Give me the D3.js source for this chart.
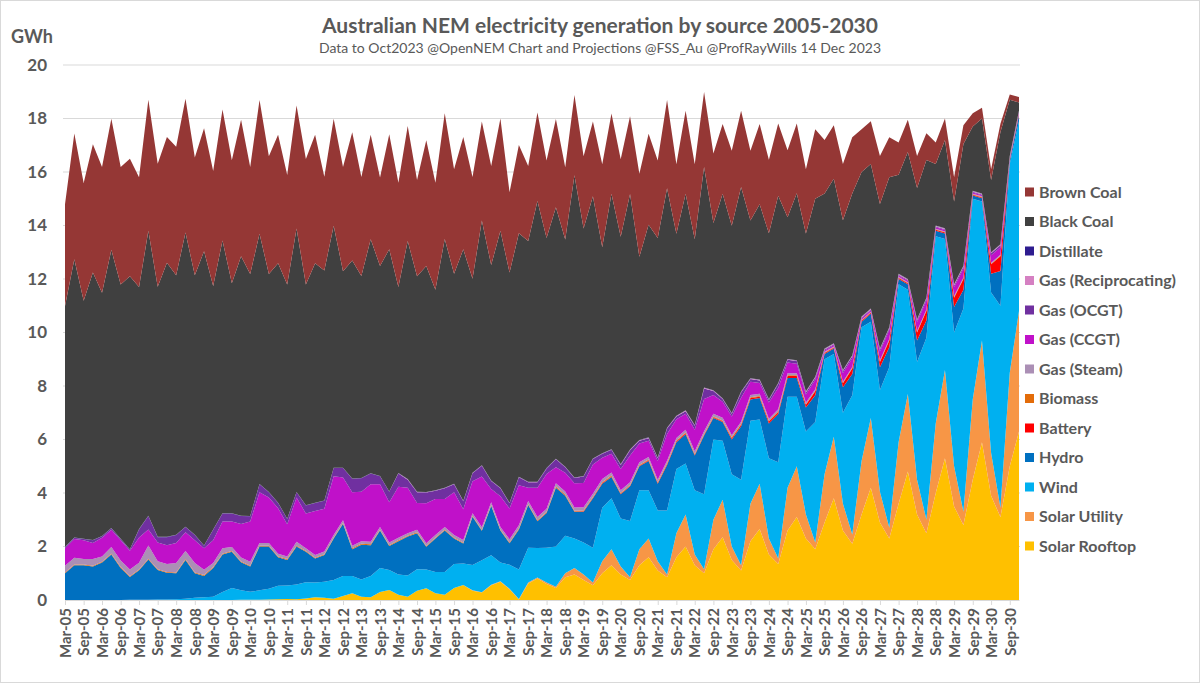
<!DOCTYPE html>
<html>
<head>
<meta charset="utf-8">
<script src="https://cdn.jsdelivr.net/npm/d3@7"></script>
<style>
  body { margin: 0; background: #fff; }
  svg { display: block; font-family: Lato, "Open Sans", sans-serif; }
</style>
</head>
<body>
<svg id="chart" width="1200" height="683"></svg>
<script>
// Quarterly samples (Mar, Jun, Sep, Dec) from Mar-05 to Dec-30, GWh.
// One row per year.
const solarRooftop = [
  0,0,0,0, 0,0,0,0, 0,0,0,0, 0,0,0,0,
  0,0,0,0.01, 0.01,0.01,0.02,0.03, 0.04,0.03,0.06,0.1, 0.08,0.05,0.15,0.25,
  0.12,0.1,0.3,0.37, 0.2,0.12,0.35,0.44, 0.25,0.2,0.45,0.56, 0.35,0.28,0.55,0.68,
  0.4,0.02,0.62,0.8, 0.6,0.45,0.85,0.95, 0.75,0.55,1.0,1.3, 0.95,0.75,1.3,1.6,
  1.1,0.85,1.6,2.0, 1.3,1.0,1.9,2.35, 1.5,1.1,2.2,2.65, 1.7,1.35,2.6,3.1,
  2.3,1.9,2.9,3.8, 2.6,2.1,3.2,4.2, 2.9,2.3,3.6,4.8, 3.2,2.5,4.0,5.3,
  3.5,2.8,4.5,5.9, 3.9,3.1,5.0,6.3
];
const solarUtility = [
  0,0,0,0, 0,0,0,0, 0,0,0,0, 0,0,0,0,
  0,0,0,0, 0,0,0,0, 0,0,0,0, 0,0,0,0,
  0,0,0,0, 0,0,0,0, 0,0,0,0, 0.01,0.01,0.02,0.02,
  0.02,0.02,0.03,0.04, 0.05,0.05,0.15,0.25, 0.2,0.1,0.45,0.6, 0.3,0.1,0.6,0.7,
  0.35,0.1,0.9,1.2, 0.4,0.15,1.1,1.4, 0.5,0.2,1.4,1.7, 0.6,0.2,1.6,1.9,
  0.9,0.25,1.8,2.3, 1.0,0.35,2.0,2.6, 1.15,0.4,2.3,2.9, 1.3,0.5,2.6,3.3,
  1.5,0.5,3.0,3.8, 1.6,0.35,3.5,4.5
];
const wind = [
  0,0,0,0, 0,0,0,0.01, 0.01,0.01,0.02,0.02, 0.03,0.05,0.08,0.1,
  0.12,0.3,0.45,0.35, 0.3,0.35,0.4,0.5, 0.5,0.55,0.6,0.55, 0.6,0.7,0.75,0.65,
  0.65,0.8,0.9,0.75, 0.75,0.8,0.8,0.7, 0.8,0.85,0.9,0.8, 0.95,1.2,1.1,0.7,
  0.9,1.1,1.3,1.1, 1.3,1.5,1.4,1.1, 1.2,1.3,2.0,1.9, 1.8,2.1,2.2,1.8,
  1.9,2.4,2.4,1.9, 2.4,2.8,3.0,2.2, 2.7,3.2,3.1,2.4, 3.0,3.6,3.4,2.6,
  3.1,4.5,4.3,3.1, 3.4,5.2,5.0,3.6, 3.8,6.0,5.9,3.9, 4.4,6.8,7.0,4.9,
  5.0,7.6,7.5,5.2, 6.0,7.55,7.8,7.1
];
const hydro = [
  1.0,1.3,1.3,1.25, 1.4,1.7,1.2,0.85, 1.1,1.5,1.1,1.0, 0.97,1.45,0.92,0.8,
  1.08,1.4,1.35,1.05, 0.94,1.64,1.58,1.07, 0.96,1.42,1.14,0.9, 1.0,1.55,1.95,1.0,
  1.3,1.15,1.4,0.9, 1.25,1.45,1.35,0.85, 1.25,1.55,0.95,0.75, 1.8,1.1,1.85,1.2,
  0.8,1.5,1.6,1.0, 1.3,2.2,1.5,1.0, 1.15,1.85,0.9,0.8, 0.9,1.3,0.9,1.1,
  1.0,1.7,1.0,1.1, 1.3,2.2,0.8,0.7, 1.3,2.0,0.8,0.8, 1.3,1.8,0.7,0.7,
  0.9,1.0,0.2,0.2, 0.95,0.8,0.2,0.3, 0.85,0.75,0.2,0.2, 0.8,0.65,0.2,0.2,
  0.95,0.7,0.12,0.12, 0.7,1.3,0.12,0.22
];
const battery = [
  0,0,0,0, 0,0,0,0, 0,0,0,0, 0,0,0,0,
  0,0,0,0, 0,0,0,0, 0,0,0,0, 0,0,0,0,
  0,0,0,0, 0,0,0,0, 0,0,0,0, 0,0,0,0,
  0,0,0,0.01, 0.01,0.01,0.01,0.01, 0.02,0.02,0.02,0.02, 0.02,0.02,0.02,0.02,
  0.02,0.03,0.03,0.03, 0.03,0.03,0.03,0.03, 0.05,0.05,0.05,0.05, 0.07,0.07,0.07,0.07,
  0.1,0.15,0.03,0.03, 0.15,0.2,0.04,0.04, 0.2,0.25,0.04,0.04, 0.3,0.35,0.04,0.04,
  0.35,0.4,0.03,0.03, 0.35,0.55,0.03,0.04
];
const biomass = [
  0.03,0.03,0.03,0.03, 0.03,0.03,0.03,0.03, 0.03,0.03,0.03,0.03, 0.03,0.03,0.03,0.03,
  0.03,0.03,0.03,0.03, 0.03,0.03,0.03,0.03, 0.03,0.03,0.03,0.03, 0.03,0.03,0.03,0.03,
  0.03,0.03,0.03,0.03, 0.03,0.03,0.03,0.03, 0.03,0.03,0.03,0.03, 0.03,0.03,0.03,0.03,
  0.03,0.03,0.03,0.03, 0.03,0.03,0.03,0.03, 0.03,0.03,0.03,0.03, 0.03,0.03,0.03,0.03,
  0.03,0.03,0.03,0.03, 0.03,0.03,0.03,0.03, 0.03,0.03,0.03,0.03, 0.03,0.03,0.03,0.03,
  0.02,0.02,0.02,0.02, 0.02,0.02,0.02,0.02, 0.02,0.02,0.02,0.02, 0.02,0.02,0.02,0.02,
  0.02,0.02,0.02,0.02, 0.02,0.02,0.02,0.02
];
const gasSteam = [
  0.25,0.25,0.2,0.25, 0.2,0.25,0.25,0.25, 0.25,0.5,0.3,0.3, 0.35,0.3,0.35,0.2,
  0.15,0.2,0.15,0.15, 0.15,0.1,0.1,0.1, 0.1,0.15,0.1,0.1, 0.1,0.1,0.1,0.1,
  0.1,0.1,0.1,0.1, 0.1,0.1,0.1,0.1, 0.1,0.1,0.1,0.1, 0.1,0.1,0.1,0.1,
  0.12,0.12,0.12,0.12, 0.12,0.12,0.12,0.12, 0.12,0.12,0.12,0.12, 0.1,0.1,0.1,0.1,
  0.1,0.1,0.1,0.1, 0.1,0.1,0.1,0.1, 0.08,0.08,0.08,0.08, 0.08,0.08,0.08,0.08,
  0.06,0.06,0.03,0.03, 0.04,0.04,0.02,0.02, 0.04,0.04,0.02,0.02, 0.04,0.04,0.02,0.02,
  0.04,0.04,0.02,0.02, 0.04,0.04,0.02,0.02
];
const gasCCGT = [
  0.65,0.7,0.7,0.6, 0.7,0.65,0.75,0.7, 0.95,0.6,0.7,0.7, 0.75,0.7,0.85,0.8,
  0.85,1.0,0.95,1.25, 1.5,1.9,1.7,1.7, 1.2,1.65,1.3,1.65, 1.6,2.2,1.6,2.0,
  1.85,2.15,1.6,1.5, 1.9,1.7,1.0,1.5, 1.35,1.05,1.6,1.15, 1.2,1.9,0.5,1.15,
  1.15,1.5,0.5,1.1, 1.3,0.6,0.7,0.9, 0.9,1.1,0.8,0.7, 0.8,1.0,0.7,0.6,
  0.7,1.0,0.7,0.6, 0.8,1.2,0.7,0.6, 0.7,0.9,0.5,0.4, 0.6,0.8,0.4,0.35,
  0.3,0.35,0.05,0.05, 0.33,0.33,0.05,0.05, 0.33,0.33,0.05,0.05, 0.33,0.33,0.05,0.05,
  0.33,0.33,0.04,0.04, 0.28,0.28,0.04,0.04
];
const gasOCGT = [
  0.05,0.05,0.05,0.1, 0.05,0.05,0.05,0.05, 0.3,0.5,0.2,0.3, 0.3,0.2,0.2,0.1,
  0.4,0.3,0.3,0.3, 0.2,0.3,0.2,0.2, 0.2,0.2,0.3,0.3, 0.3,0.3,0.35,0.5,
  0.5,0.4,0.3,0.4, 0.5,0.3,0.4,0.4, 0.3,0.4,0.3,0.3, 0.3,0.4,0.3,0.3,
  0.2,0.3,0.2,0.2, 0.2,0.3,0.2,0.2, 0.25,0.2,0.15,0.15, 0.15,0.2,0.1,0.1,
  0.1,0.2,0.1,0.1, 0.15,0.4,0.15,0.1, 0.1,0.2,0.1,0.1, 0.1,0.15,0.1,0.1,
  0.08,0.08,0.03,0.03, 0.07,0.07,0.03,0.03, 0.07,0.07,0.03,0.03, 0.07,0.07,0.03,0.03,
  0.07,0.07,0.03,0.03, 0.07,0.07,0.03,0.02
];
const gasRecip = [
  0,0,0,0, 0,0,0,0, 0,0,0,0, 0,0,0,0,
  0,0,0,0, 0,0,0,0, 0,0,0,0, 0,0,0,0,
  0,0,0,0, 0.01,0.01,0.01,0.01, 0.01,0.01,0.01,0.01, 0.01,0.01,0.01,0.01,
  0.01,0.01,0.01,0.01, 0.01,0.01,0.01,0.01, 0.01,0.01,0.01,0.01, 0.02,0.02,0.02,0.02,
  0.02,0.02,0.02,0.02, 0.02,0.02,0.02,0.02, 0.02,0.02,0.02,0.02, 0.02,0.02,0.02,0.02,
  0.03,0.03,0.03,0.03, 0.03,0.03,0.03,0.03, 0.03,0.03,0.03,0.03, 0.03,0.03,0.03,0.03,
  0.03,0.03,0.03,0.03, 0.03,0.03,0.03,0.03
];
const distillate = [
  0.01,0.01,0.01,0.01, 0.01,0.01,0.01,0.01, 0.01,0.01,0.01,0.01, 0.01,0.01,0.01,0.01,
  0.01,0.01,0.01,0.01, 0.01,0.01,0.01,0.01, 0.01,0.01,0.01,0.01, 0.01,0.01,0.01,0.01,
  0.01,0.01,0.01,0.01, 0.01,0.01,0.01,0.01, 0.01,0.01,0.01,0.01, 0.01,0.01,0.01,0.01,
  0.01,0.01,0.01,0.01, 0.01,0.01,0.01,0.01, 0.01,0.01,0.01,0.01, 0.01,0.01,0.01,0.01,
  0.01,0.01,0.01,0.01, 0.01,0.01,0.01,0.01, 0.01,0.01,0.01,0.01, 0.01,0.01,0.01,0.01,
  0.01,0.01,0.01,0.01, 0.01,0.01,0.01,0.01, 0.01,0.01,0.01,0.01, 0.01,0.01,0.01,0.01,
  0.01,0.01,0.01,0.01, 0.01,0.01,0.01,0.01
];
const blackCoal = [
  9.0,10.4,8.9,10.0, 9.1,10.4,9.5,10.2, 9.05,10.65,9.35,10.25, 9.7,11.0,9.7,11.0,
  9.1,10.2,8.6,9.7, 9.05,9.35,8.15,8.95, 8.75,9.85,8.25,8.95, 8.6,9.05,7.35,8.15,
  7.55,8.75,7.85,9.05, 6.95,8.9,8.05,8.45, 7.5,9.3,7.85,9.4, 7.25,9.15,8.05,9.6,
  8.6,9.1,9.0,10.5, 8.6,9.4,8.5,11.3, 9.25,9.8,7.7,9.55, 8.5,9.55,6.85,7.95,
  8.2,8.95,6.8,8.1, 6.95,8.25,6.25,7.65, 7.0,7.65,5.9,6.55, 6.2,7.0,5.3,6.25,
  5.9,6.65,5.8,6.15, 5.6,6.05,5.4,5.4, 5.4,5.6,3.7,4.75, 4.9,5.15,2.3,3.3,
  3.1,4.55,2.4,2.8, 2.7,4.2,2.1,0.3
];
const brownCoal = [
  3.8,4.7,4.4,4.8, 4.7,4.9,4.4,4.4, 4.1,4.9,4.6,4.7, 4.8,5.0,4.4,4.6,
  4.3,4.9,4.6,5.1, 4.0,5.0,4.4,4.8, 4.1,4.6,4.7,4.8, 3.5,4.0,3.9,4.8,
  3.7,3.9,3.3,4.3, 3.9,4.3,3.6,4.7, 4.0,4.7,3.9,4.2, 3.8,3.7,3.7,4.2,
  3.0,3.3,2.8,3.3, 2.9,3.3,2.7,3.0, 2.7,2.8,3.1,3.0, 2.9,2.9,3.1,3.4,
  2.9,3.3,2.6,3.1, 2.8,2.8,2.6,2.6, 2.8,2.85,2.6,3.0, 2.75,2.7,2.5,2.6,
  2.4,2.6,2.0,2.0, 2.1,2.1,1.6,1.6, 1.8,1.5,1.2,1.2, 1.2,1.0,0.8,0.8,
  0.9,0.7,0.5,0.4, 0.4,0.3,0.2,0.2
];

// stack order, bottom first
const seriesKeys = [
  "Solar Rooftop", "Solar Utility", "Wind", "Hydro", "Battery", "Biomass",
  "Gas (Steam)", "Gas (CCGT)", "Gas (OCGT)", "Gas (Reciprocating)", "Distillate",
  "Black Coal", "Brown Coal"
];
const seriesValues = [
  solarRooftop, solarUtility, wind, hydro, battery, biomass,
  gasSteam, gasCCGT, gasOCGT, gasRecip, distillate, blackCoal, brownCoal
];
const seriesColors = [
  "#ffc000", "#f79646", "#00b0f0", "#0070c0", "#ff0000", "#e36c09",
  "#ab8fb5", "#c011c9", "#7030a0", "#d580c2", "#2e1c8f", "#404040", "#953735"
];
const yTicks = [0, 2, 4, 6, 8, 10, 12, 14, 16, 18, 20];

const months = d3.timeMonth.range(new Date(2005, 2, 1), new Date(2031, 0, 1), 3);
seriesValues.forEach((arr, i) => {
  if (arr.length !== months.length) console.error(seriesKeys[i], arr.length, months.length);
});

const rows = months.map((date, i) => {
  const row = { date };
  seriesKeys.forEach((k, j) => { row[k] = seriesValues[j][i]; });
  return row;
});

const svg = d3.select("#chart");
const W = 1200, H = 683;
const plot = { left: 65, right: 1019, top: 65, bottom: 600 };
const textColor = "#595959";

svg.append("rect")
  .attr("x", 0.5).attr("y", 0.5)
  .attr("width", W - 1).attr("height", H - 1)
  .attr("fill", "#fff").attr("stroke", "#d9d9d9");

const x = d3.scaleTime()
  .domain([months[0], months[months.length - 1]])
  .range([plot.left, plot.right]);
const y = d3.scaleLinear().domain([0, 20]).range([plot.bottom, plot.top]);

// gridlines
svg.append("g")
  .selectAll("line")
  .data(yTicks.filter(d => d > 0))
  .join("line")
  .attr("x1", plot.left - 2).attr("x2", plot.right + 1)
  .attr("y1", d => y(d)).attr("y2", d => y(d))
  .attr("stroke", "#d9d9d9").attr("stroke-width", 1);

// stacked areas
const stacked = d3.stack().keys(seriesKeys)(rows);
const area = d3.area()
  .x(d => x(d.data.date))
  .y0(d => y(d[0]))
  .y1(d => y(d[1]));

svg.append("g")
  .selectAll("path")
  .data(stacked)
  .join("path")
  .attr("d", area)
  .attr("fill", (d, i) => seriesColors[i]);

// y axis labels
svg.append("g")
  .selectAll("text")
  .data(yTicks)
  .join("text")
  .attr("x", 47)
  .attr("y", d => y(d))
  .attr("dy", "0.35em")
  .attr("text-anchor", "end")
  .attr("font-size", 17)
  .attr("font-weight", 700)
  .attr("fill", textColor)
  .text(d => d);

svg.append("text")
  .attr("x", 11).attr("y", 43)
  .attr("font-size", 18).attr("font-weight", 700)
  .attr("fill", textColor)
  .text("GWh");

// x axis: ticks every 6 months from Mar-05
const xTicks = d3.timeMonth.range(new Date(2005, 2, 1), new Date(2030, 11, 1), 6);
const xAxis = d3.axisBottom(x)
  .tickValues(xTicks)
  .tickFormat(d3.timeFormat("%b-%y"))
  .tickSize(5)
  .tickSizeOuter(0);

const xAxisG = svg.append("g")
  .attr("transform", `translate(0,${plot.bottom})`)
  .call(xAxis);
xAxisG.select(".domain").attr("stroke", "#d9d9d9");
xAxisG.selectAll(".tick line").attr("stroke", "#d9d9d9");
xAxisG.selectAll(".tick text")
  .attr("fill", textColor)
  .attr("font-family", "Lato, 'Open Sans', sans-serif")
  .attr("font-size", 15)
  .attr("font-weight", 700)
  .attr("text-anchor", "end")
  .attr("transform", "rotate(-90)")
  .attr("x", -8)
  .attr("y", 0)
  .attr("dy", "0.35em");

// titles
svg.append("text")
  .attr("x", 600).attr("y", 33)
  .attr("text-anchor", "middle")
  .attr("font-size", 21).attr("font-weight", 700)
  .attr("fill", textColor)
  .text("Australian NEM electricity generation by source 2005-2030");

svg.append("text")
  .attr("x", 600).attr("y", 53)
  .attr("text-anchor", "middle")
  .attr("font-size", 14)
  .attr("fill", textColor)
  .text("Data to Oct2023 @OpenNEM Chart and Projections @FSS_Au @ProfRayWills 14 Dec 2023");

// legend, top entry is the top of the stack
const legendKeys = seriesKeys.slice().reverse();
const legendColors = seriesColors.slice().reverse();
const legend = svg.append("g").attr("transform", "translate(1025,192)");
const item = legend.selectAll("g")
  .data(legendKeys)
  .join("g")
  .attr("transform", (d, i) => `translate(0,${i * 29.5})`);
item.append("rect")
  .attr("x", 0).attr("y", -4.5)
  .attr("width", 9).attr("height", 9)
  .attr("fill", (d, i) => legendColors[i]);
item.append("text")
  .attr("x", 14).attr("y", 0).attr("dy", "0.35em")
  .attr("font-size", 16).attr("font-weight", 700)
  .attr("fill", textColor)
  .text(d => d);
</script>
</body>
</html>
